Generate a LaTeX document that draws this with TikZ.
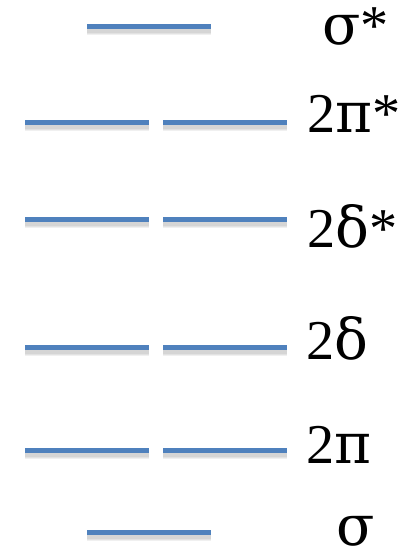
\documentclass[tikz,border=0pt]{standalone}
\usepackage{fontspec}
\setmainfont{Liberation Serif}
\newfontfamily\gk{DejaVu Serif}
\begin{document}
\begin{tikzpicture}[x=0.02cm,y=-0.02cm]
  \tikzset{
    level/.style={draw={rgb,255:red,79;green,129;blue,189},line width=0.1cm},
    shade/.style={draw=black,line width=0.14cm,opacity=0.06},
    term/.style={anchor=base west,inner sep=0pt,font=\fontsize{32}{38}\selectfont}
  }
  \useasboundingbox (0,0) rectangle (412,557);

  % Single levels (sigma* on top, sigma at the bottom).
  \foreach \y in {27,532} {
    \foreach \d in {3,4,5} {
      \draw[shade] (87,\y+\d) -- (211,\y+\d);
    }
    \draw[level] (87,\y) -- (211,\y);
  }

  % Degenerate pairs.
  \foreach \y in {123,219,347,450} {
    \foreach \d in {3,4,5} {
      \draw[shade] (25,\y+\d) -- (149,\y+\d);
      \draw[shade] (163,\y+\d) -- (287,\y+\d);
    }
    \draw[level] (25,\y) -- (149,\y);
    \draw[level] (163,\y) -- (287,\y);
  }

  % Labels.
  \node[term] (sigstar) at (322,45) {{\gk σ}*};
  \node[term] (pistar) at (307,133) {2{\gk π}*};
  \node[term] (delstar) at (307,247) {2{\gk δ}*};
  \node[term] (del) at (306,359) {2{\gk δ}};
  \node[term] (pi) at (306,463) {2{\gk π}};
  \node[term] (sig) at (336,545) {{\gk σ}};
\end{tikzpicture}
\end{document}
